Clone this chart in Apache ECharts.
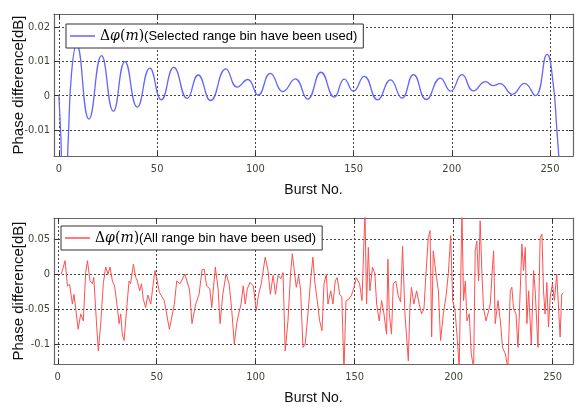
<!DOCTYPE html>
<html lang="en">
<head>
	<meta charset="UTF-8">
	<title>Phase difference vs burst</title>
	<script src="https://cdn.jsdelivr.net/npm/echarts@6.0.0/dist/echarts.min.js"></script>
	<style>
		html, body { margin: 0; padding: 0; background: #fff; }
		#chart { width: 581px; height: 407px; }
	</style>
</head>
<body>
	<div id="chart"></div>
	<script>
		// tick labels
		var burstTicks = [0, 50, 100, 150, 200, 250];
		var topYTicks = [-0.01, 0, 0.01, 0.02];
		var bottomYTicks = [-0.1, -0.05, 0, 0.05];

		// upper plot: selected range bin (peaks / troughs)
		var topBurst = [0, 1, 2.2, 3.5, 4.8, 6.5, 9, 15.3, 21.7, 27.7, 33.6, 39.9, 46.3, 52.1, 58.5, 65.3,
			70.9, 77.2, 85, 90.8, 96.1, 101.4, 107.6, 114.1, 120.3, 126.6, 133.4, 140.2, 145.3, 149.9,
			155.4, 162.2, 168.8, 174.6, 180.5, 187, 194.2, 199.4, 205.2, 211, 217.2, 221, 224.5, 230.8,
			237, 242.5, 248.5, 251.5, 253.5, 255, 256];
		var topPhase = [0, -0.012, -0.03, -0.028, -0.012, 0.007, 0.0148, -0.0068, 0.0116, -0.0045, 0.0099, -0.0033,
			0.0080, -0.0012, 0.0082, -0.0008, 0.0060, -0.0014, 0.0078, 0.0025, 0.0047, 0.0002, 0.0065, 0.0012,
			0.0049, -0.0010, 0.0068, -0.0004, 0.0048, 0.0013, 0.0056, -0.0012, 0.0046, -0.0007, 0.0061, -0.0011,
			0.0051, 0.0013, 0.0061, 0.0014, 0.0041, 0.0029, 0.0035, 0.0004, 0.0036, 0.0000, 0.0120, 0.0040,
			-0.0100, -0.0220, -0.0300];

		// lower plot: all range bins
		var bottomBurst = [1.8, 3.7, 4.9, 6, 7.4, 8.2, 10.3, 11.6, 12.9, 14.1, 15, 16.3, 17.5, 18.2, 19.7, 20.5, 21.7,
			23, 24.2, 25.4, 26.4, 27.6, 28.7, 30.1, 31, 31.8, 32.6, 33.5, 34.6, 36, 36.8, 38.2, 39.4, 40.2, 41.4,
			42.3, 43.2, 44.4, 45.5, 47, 48.1, 49.1, 50.3, 51.3, 53.8, 56.4, 58.9, 60.1, 61.7, 63, 64.2, 65.1, 66.6,
			67.8, 69.7, 71.4, 72.9, 74, 75.2, 76.8, 77.8, 79.6, 81, 82, 83.4, 85, 86.6, 87.9, 89.2, 90.4, 91.4, 92.6,
			93.7, 94.7, 95.8, 97.1, 98.8, 100.3, 101.4, 102.8, 104.8, 106.2, 107.4, 108.8, 110, 111.3, 112.7, 113.8,
			114.9, 116.3, 117.6, 118.5, 119.7, 120.5, 121.7, 122.7, 123.9, 125, 126.4, 127.7, 128.9, 129.8, 131.1,
			132.3, 133.5, 134.5, 135.7, 136.5, 137.9, 139, 140.2, 141.2, 142.4, 143.5, 144.6, 145.6, 147, 148.3,
			149.7, 150.8, 152.5, 153.7, 155.2, 156, 156.9, 157.7, 159, 160.2, 161.1, 162.4, 163.6, 164.8, 166.1,
			166.8, 167.5, 168.6, 169.5, 170.8, 172, 173.2, 174.2, 175.4, 177.1, 177.9, 178.7, 179.9, 181.3, 182.6,
			183.8, 185, 186, 187.2, 188.1, 188.9, 189.7, 191.1, 192.3, 193.4, 194.8, 196.1, 197.3, 198.5, 199.5,
			200.7, 201.9, 202.8, 204.2, 205, 205.9, 206.7, 207.9, 208.9, 210.1, 210.9, 211.7, 212.6, 213.4, 214.3,
			215.1, 216.3, 217.3, 218.5, 219.7, 220.2, 221, 222.4, 223.6, 224.7, 226.1, 227.4, 228.6, 229.4, 230.3,
			231.5, 232.5, 233.2, 234.5, 235.3, 236.2, 237, 237.9, 239.2, 240.4, 241.2, 242.6, 243.7, 244.6, 245.4,
			246.2, 247.1, 247.9, 248.8, 249.9, 250.9, 252.1, 252.9, 253.8, 254.6, 255.5];
		var bottomPhase = [0.0, 0.019, -0.017, -0.015, -0.043, -0.029, -0.079, -0.057, -0.067, 0.002, 0.019, -0.01,
			-0.014, -0.005, -0.076, -0.11, -0.071, -0.014, 0.01, 0.0, 0.01, -0.01, -0.017, -0.048, -0.071, -0.057,
			-0.086, -0.095, -0.057, -0.01, -0.014, 0.014, -0.005, -0.01, -0.024, -0.014, -0.036, -0.048, -0.03,
			-0.043, -0.017, 0.005, -0.01, -0.026, -0.038, -0.079, -0.043, -0.01, -0.014, -0.007, 0.0, 0.002, -0.023,
			-0.071, -0.043, -0.029, 0.006, 0.007, -0.017, -0.021, -0.048, 0.01, -0.021, -0.071, -0.029, 0.0, -0.014,
			-0.052, -0.1, -0.071, -0.057, -0.043, -0.017, -0.043, -0.021, -0.012, -0.017, -0.052, -0.03, -0.014,
			0.024, 0.005, -0.029, -0.002, -0.029, -0.002, -0.007, 0.002, -0.11, -0.067, 0.0, 0.029, 0.0, -0.019,
			-0.002, -0.024, -0.105, -0.1, -0.057, -0.01, 0.024, -0.01, -0.038, -0.067, -0.081, -0.014, 0.0, -0.043,
			-0.024, -0.043, -0.01, -0.005, -0.029, -0.033, -0.14, -0.038, -0.036, -0.031, -0.019, -0.005, -0.014,
			-0.038, 0.09, -0.043, 0.038, -0.024, 0.01, 0.0, -0.043, -0.067, -0.038, -0.057, -0.086, 0.021, -0.057,
			-0.086, -0.014, -0.01, -0.031, -0.04, 0.04, -0.057, -0.124, -0.048, -0.019, -0.043, -0.024, -0.043,
			-0.057, -0.05, 0.0, 0.052, 0.062, -0.09, 0.033, 0.0, -0.024, -0.095, -0.057, -0.033, 0.0, 0.055, -0.038,
			-0.052, -0.095, -0.135, 0.09, -0.038, -0.01, -0.067, -0.057, -0.114, -0.135, 0.033, 0.047, -0.01, 0.076,
			0.0, -0.048, -0.067, -0.057, -0.043, 0.014, 0.033, -0.071, -0.038, -0.067, -0.105, -0.114, -0.135,
			-0.024, -0.019, -0.05, -0.057, -0.105, -0.057, 0.043, 0.005, 0.038, -0.071, -0.024, -0.1, 0.005, -0.024,
			-0.105, 0.052, 0.057, -0.024, -0.057, -0.012, -0.076, -0.033, -0.014, -0.038, 0.0, -0.043, -0.09,
			-0.029, -0.027];

		var topName = 'selected';
		var bottomName = 'all';

		function pairs(xs, ys) {
			return xs.map(function (x, i) { return [x, ys[i]]; });
		}

		var tickFont = { fontFamily: "'DejaVu Sans Condensed', 'Liberation Sans Narrow', 'Liberation Sans', sans-serif", fontSize: 11, color: '#3c4538' };
		var nameFont = { fontFamily: 'Liberation Sans', fontSize: 14, color: '#111' };
		var yNameFont = { fontFamily: 'Liberation Sans', fontSize: 15, color: '#111' };
		var dotted = { type: [2, 2], color: '#444', width: 1 };
		var boxLine = { color: '#666', width: 1.2 };

		function xAxes(grid, min, max) {
			return [{
				gridIndex: grid, type: 'value', min: min, max: max, position: 'bottom',
				axisLine: { show: true, onZero: false, lineStyle: boxLine },
				axisTick: { inside: true, length: 4, customValues: burstTicks, lineStyle: { color: '#333' } },
				axisLabel: Object.assign({ customValues: burstTicks, margin: 8 }, tickFont),
				splitLine: { show: true, lineStyle: dotted },
				name: 'Burst No.', nameLocation: 'middle', nameGap: 27, nameMoveOverlap: false,
				nameTextStyle: nameFont
			}, {
				gridIndex: grid, type: 'value', min: min, max: max, position: 'top',
				axisLine: { show: true, onZero: false, lineStyle: boxLine },
				axisTick: { inside: true, length: 4, customValues: burstTicks, lineStyle: { color: '#333' } },
				axisLabel: { show: false },
				splitLine: { show: false }
			}];
		}

		function yAxes(grid, min, max, ticks) {
			return [{
				gridIndex: grid, type: 'value', min: min, max: max, position: 'left',
				axisLine: { show: true, onZero: false, lineStyle: boxLine },
				axisTick: { inside: true, length: 4, customValues: ticks, lineStyle: { color: '#333' } },
				axisLabel: Object.assign({
					customValues: ticks, margin: 4,
					formatter: function (v) { return String(Math.round(v * 1000) / 1000); }
				}, tickFont),
				splitLine: { show: true, lineStyle: dotted },
				name: 'Phase difference[dB]', nameLocation: 'middle', nameGap: 28, nameRotate: 90,
				nameMoveOverlap: false, nameTextStyle: yNameFont
			}, {
				gridIndex: grid, type: 'value', min: min, max: max, position: 'right',
				axisLine: { show: true, onZero: false, lineStyle: boxLine },
				axisTick: { inside: true, length: 4, customValues: ticks, lineStyle: { color: '#333' } },
				axisLabel: { show: false },
				splitLine: { show: false }
			}];
		}

		var richPhi = {
			g: { fontFamily: 'DejaVu Serif', fontSize: 14, color: '#000' },
			i: { fontFamily: 'DejaVu Serif', fontStyle: 'italic', fontSize: 14, color: '#000' }
		};
		var phiLabel = '{g|Δ}{i|φ}{g|(}{i|m}{g|)}';

		function legendBox(name, left, top, text) {
			return {
				data: [name], left: left, top: top, orient: 'horizontal',
				icon: 'rect', itemWidth: 25, itemHeight: 1.5,
				backgroundColor: '#fff', borderColor: '#333', borderWidth: 1, borderRadius: 0,
				padding: [5, 6, 5, 4], selectedMode: false,
				formatter: function () { return phiLabel + text; },
				textStyle: { fontFamily: 'Liberation Sans', fontSize: 13, color: '#000', rich: richPhi }
			};
		}

		var option = {
			animation: false,
			backgroundColor: '#fff',
			grid: [
				{ left: 54, right: 8, top: 14, height: 142, outerBoundsMode: 'none', containLabel: false },
				{ left: 54, right: 8, top: 218, height: 146, outerBoundsMode: 'none', containLabel: false }
			],
			xAxis: xAxes(0, -2.5, 261.7).concat(xAxes(1, -1.9, 260.3)),
			yAxis: yAxes(0, -0.0175, 0.0237, topYTicks).concat(yAxes(1, -0.1286, 0.08, bottomYTicks)),
			legend: [
				legendBox(topName, 66, 24, '(Selected range bin have been used)'),
				legendBox(bottomName, 61, 226, '(All range bin have been used)')
			],
			series: [{
				name: topName, type: 'line', xAxisIndex: 0, yAxisIndex: 0,
				data: pairs(topBurst, topPhase), smooth: 0.5, symbol: 'none',
				lineStyle: { color: '#6464ff', width: 1.3 }, itemStyle: { color: '#6464ff' }
			}, {
				name: bottomName, type: 'line', xAxisIndex: 2, yAxisIndex: 2,
				data: pairs(bottomBurst, bottomPhase), symbol: 'none',
				lineStyle: { color: '#ff5050', width: 1 }, itemStyle: { color: '#ff5050' }
			}]
		};

		var myChart = echarts.init(document.getElementById('chart'));
		myChart.setOption(option);
	</script>
</body>
</html>
